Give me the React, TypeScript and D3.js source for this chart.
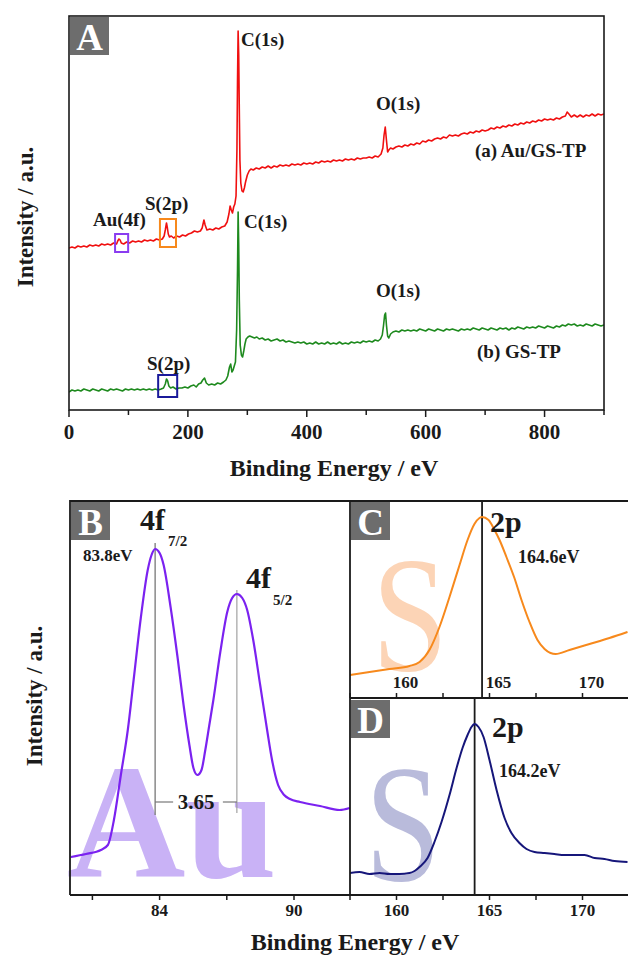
import React from "react";
import * as d3 from "d3";

// ---------- data: binding energy (eV) vs intensity (a.u.) ----------

// survey spectrum, (a) Au/GS-TP
const surveyAuGsTp: [number, number][] = [
  [0,162],[5,163],[10,162],[15,164],[20,163],[25,164],[30,163],[35,165],[40,164],[45,165],[50,164],[55,166],[60,165],[65,166],[70,165],[75,167],[80,166],[82,169],[84,171],[86,170],[88,167],[92,166],[97,168],[102,167],[107,169],[112,168],[117,169],[122,168],[127,170],[132,169],[137,170],[142,169],[147,171],[152,170],[157,171],[160,174],[162,180],[164,187],[165.5,182],[167,176],[169,173],[172,174],[176,172],[181,174],[186,173],[191,175],[196,174],[201,176],[206,177],[211,179],[216,178],[221,179],[224,182],[227,190],[229,185],[232,180],[237,181],[242,180],[247,182],[252,181],[257,183],[262,184],[266,188],[269,196],[271,204],[273,200],[275,197],[277,203],[279,206],[281,214],[282.5,260],[283.5,330],[284.5,379],[285.5,355],[286.5,300],[287.5,250],[289,227],[291,219],[293,218],[295,222],[297,228],[300,235],[303,239],[306,241],[310,240],[315,242],[320,241],[325,243],[330,242],[335,244],[340,242],[345,244],[350,243],[355,245],[360,244],[365,245],[370,244],[375,246],[380,245],[385,246],[390,245],[395,247],[400,246],[405,247],[410,246],[415,248],[420,247],[425,249],[430,248],[435,249],[440,248],[445,250],[450,249],[455,250],[460,249],[465,251],[470,250],[475,251],[480,250],[485,252],[490,251],[495,252],[500,252],[505,253],[510,252],[515,254],[520,253],[525,256],[528,262],[530,275],[532,283],[534,270],[536,258],[538,260],[541,262],[545,261],[550,263],[555,264],[560,263],[565,265],[570,264],[575,266],[580,265],[585,267],[590,266],[595,269],[600,268],[605,270],[610,269],[615,271],[620,272],[625,271],[630,273],[635,272],[640,275],[645,274],[650,275],[655,274],[660,276],[665,277],[670,276],[675,278],[680,277],[685,279],[690,278],[695,280],[700,279],[705,280],[710,282],[715,281],[720,283],[725,282],[730,284],[735,283],[740,285],[745,284],[750,286],[755,285],[760,287],[765,286],[770,288],[775,287],[780,289],[785,288],[790,290],[795,289],[800,291],[805,290],[810,291],[815,290],[820,292],[825,291],[830,293],[835,294],[838,298],[841,296],[845,293],[850,295],[855,293],[860,295],[865,293],[870,295],[875,294],[880,296],[885,294],[890,296],[895,295],[900,296],
];

// survey spectrum, (b) GS-TP
const surveyGsTp: [number, number][] = [
  [0,18],[5,20],[10,19],[15,20],[20,19],[25,21],[30,20],[35,19],[40,21],[45,20],[50,19],[55,21],[60,20],[65,19],[70,21],[75,20],[80,21],[85,20],[90,19],[95,21],[100,20],[105,21],[110,20],[115,21],[120,20],[125,21],[130,20],[135,21],[140,20],[145,21],[150,20],[155,21],[159,22],[162,26],[164,31],[166,29],[168,24],[171,22],[175,23],[180,21],[185,22],[190,22],[195,23],[200,22],[205,24],[210,25],[214,23],[218,26],[222,27],[225,30],[228,32],[231,27],[235,25],[240,26],[245,25],[250,27],[255,26],[260,28],[264,30],[267,34],[270,43],[272,46],[274,38],[276,40],[278,44],[280,48],[282,80],[283.5,140],[284.5,198],[285.5,165],[286.5,110],[288,65],[290,55],[292,53],[294,59],[296,66],[298,71],[301,73],[304,74],[308,73],[312,72],[316,73],[320,71],[325,72],[330,70],[335,71],[340,69],[345,70],[350,71],[355,69],[360,70],[365,68],[370,69],[375,68],[380,67],[385,68],[390,67],[395,68],[400,66],[405,67],[410,66],[415,68],[420,66],[425,67],[430,66],[435,68],[440,66],[445,67],[450,66],[455,68],[460,66],[465,67],[470,66],[475,68],[480,67],[485,68],[490,67],[495,69],[500,68],[505,69],[510,68],[515,70],[520,69],[524,71],[527,75],[529,84],[531,95],[532.5,97],[534,85],[536,74],[538,72],[541,76],[545,78],[550,79],[555,78],[560,80],[565,79],[570,80],[575,79],[580,80],[585,79],[590,81],[595,80],[600,79],[605,81],[610,80],[615,79],[620,81],[625,80],[630,79],[635,81],[640,80],[645,81],[650,80],[655,79],[660,81],[665,80],[670,81],[675,80],[680,82],[685,81],[690,80],[695,82],[700,81],[705,80],[710,82],[715,81],[720,80],[725,82],[730,81],[735,82],[740,80],[745,82],[750,81],[755,83],[760,82],[765,81],[770,83],[775,82],[780,83],[785,82],[790,84],[795,83],[800,82],[805,84],[810,83],[815,82],[820,84],[825,83],[830,85],[835,84],[840,86],[845,85],[850,86],[855,84],[860,85],[865,84],[870,86],[875,85],[880,84],[885,86],[890,85],[895,84],[900,85],
];

// Au 4f high-resolution region
const au4f: [number, number][] = [
  [80.04,38],[80.71,41],[81.38,45],[81.69,50],[81.96,75],[82.27,120],[82.58,165],[82.84,215],[83.16,277],[83.47,325],[83.64,340],[83.8,346],[84.0,342],[84.18,330],[84.49,288],[84.8,238],[85.07,190],[85.33,150],[85.51,127],[85.69,120],[85.87,125],[86.04,145],[86.22,170],[86.4,195],[86.71,243],[87.02,283],[87.24,297],[87.45,301],[87.69,297],[87.91,285],[88.18,255],[88.49,210],[88.8,165],[89.02,135],[89.29,110],[89.56,100],[89.82,96],[90.27,93],[91.16,89],[92.04,85],[92.49,87],
];

// S 2p region, Au/GS-TP
const s2pAu: [number, number][] = [
  [157.47,23],[158.55,26],[159.62,29],[160.7,32],[161.24,36],[161.77,48],[162.31,71],[162.85,101],[163.39,133],[163.82,158],[164.19,174],[164.46,180],[164.6,181],[164.95,178],[165.27,168],[165.54,158],[165.91,141],[166.34,120],[166.72,98],[167.15,76],[167.58,58],[167.96,49],[168.28,45],[168.55,44],[169.3,48],[170.38,54],[171.45,60],[172.42,66],
];

// S 2p region, GS-TP
const s2pGs: [number, number][] = [
  [157.47,22],[158.01,23],[158.55,21],[159.09,22],[159.62,21],[160.16,21],[160.7,22],[160.97,24],[161.24,28],[161.67,37],[162.04,53],[162.42,73],[162.85,100],[163.23,127],[163.55,147],[163.82,160],[164.03,168],[164.2,171],[164.41,168],[164.68,158],[165.0,135],[165.38,105],[165.81,77],[166.18,62],[166.61,52],[166.99,46],[167.42,43],[167.96,42],[168.49,41],[169.03,40],[169.57,40],[170.11,40],[170.65,37],[171.18,36],[171.72,34],[172.42,33],
];

const surveyMajor = [0, 200, 400, 600, 800];
const surveyMinor = [100, 300, 500, 700, 900];
const auMajor = [84, 90];
const auMinor = [81, 87];
const sMajor = [160, 165, 170];
const sMinor = [157.5, 162.5, 167.5, 172.5];

const au4f72 = 83.8;
const au4fSplit = 3.65;
const s2pAuPeak = 164.6;
const s2pGsPeak = 164.2;

// marker boxes on the survey: [eV from, eV to, intensity low, intensity high]
const boxAu4f = [77.5, 99.5, 158, 176];
const boxS2pA = [153, 180, 163, 191];
const boxS2pB = [150, 182, 13, 35];

const FONT = "'Liberation Serif','Times New Roman',Times,serif";
const INK = "#1a1a1a";
const RED = "#f01010";
const GREEN = "#1e8a1e";
const PURPLE = "#7b22f0";
const ORANGE = "#f7891c";
const NAVY = "#16167a";

function PanelTag({ x, y, label }: { x: number; y: number; label: string }) {
  return (
    <g>
      <rect x={x} y={y} width={39} height={38} fill="#6d6d6d" />
      <text x={x + 19.5} y={y + 33} textAnchor="middle" fill="#fff" fontFamily={FONT} fontWeight={700} fontSize={37}>
        {label}
      </text>
    </g>
  );
}

export default function App() {
  // ---- panel A: survey ----
  const xA = d3.scaleLinear().domain([0, 900]).range([69, 604]);
  const yA = d3.scaleLinear().domain([0, 394]).range([410, 16]);
  const lineA = d3.line<[number, number]>().x((d) => xA(d[0])).y((d) => yA(d[1]));

  // ---- panel B: Au 4f ----
  const xB = d3.scaleLinear().domain([80, 92.5]).range([70, 350]);
  const yB = d3.scaleLinear().domain([0, 394]).range([895, 501]);
  const lineB = d3.line<[number, number]>().x((d) => xB(d[0])).y((d) => yB(d[1])).curve(d3.curveMonotoneX);

  // ---- panels C, D: S 2p ----
  const xS = d3.scaleLinear().domain([157.5, 172.5]).range([350, 629]);
  const yC = d3.scaleLinear().domain([0, 197]).range([698, 501]);
  const yD = d3.scaleLinear().domain([0, 197]).range([895, 698]);
  const lineC = d3.line<[number, number]>().x((d) => xS(d[0])).y((d) => yC(d[1])).curve(d3.curveMonotoneX);
  const lineD = d3.line<[number, number]>().x((d) => xS(d[0])).y((d) => yD(d[1])).curve(d3.curveMonotoneX);

  const bold = { fontFamily: FONT, fontWeight: 700, fill: INK } as const;

  const box = (b: number[], color: string) => (
    <rect
      x={xA(b[0])}
      y={yA(b[3])}
      width={xA(b[1]) - xA(b[0])}
      height={yA(b[2]) - yA(b[3])}
      fill="none"
      stroke={color}
      strokeWidth={2}
    />
  );

  const peakB = au4f.find((d) => d[0] === au4f72)!;
  const peakB2 = au4f.reduce((m, d) => (d[0] > 86.5 && d[1] > m[1] ? d : m), [0, 0] as [number, number]);
  const x72 = xB(au4f72);
  const x52 = xB(au4f72 + au4fSplit);
  const bracketY = yB(93);

  return (
    <svg
      width={628}
      height={960}
      style={{ position: "absolute", left: 0, top: 0, background: "#fff" }}
    >
      <defs>
        <clipPath id="clipA"><rect x={69} y={16} width={535} height={394} /></clipPath>
        <clipPath id="clipB"><rect x={70} y={501} width={280} height={394} /></clipPath>
        <clipPath id="clipC"><rect x={350} y={501} width={279} height={197} /></clipPath>
        <clipPath id="clipD"><rect x={350} y={698} width={279} height={197} /></clipPath>
      </defs>

      {/* ===== Panel A ===== */}
      <g clipPath="url(#clipA)">
        <path d={lineA(surveyAuGsTp) ?? ""} fill="none" stroke={RED} strokeWidth={1.6} strokeLinejoin="round" />
        <path d={lineA(surveyGsTp) ?? ""} fill="none" stroke={GREEN} strokeWidth={1.6} strokeLinejoin="round" />
      </g>
      {box(boxAu4f, "#8a3cf0")}
      {box(boxS2pA, ORANGE)}
      {box(boxS2pB, "#1a1a9a")}
      <rect x={69} y={16} width={535} height={394} fill="none" stroke={INK} strokeWidth={1.6} />
      <PanelTag x={70} y={17} label="A" />

      {surveyMajor.map((t) => (
        <g key={"am" + t}>
          <line x1={xA(t)} x2={xA(t)} y1={410} y2={417} stroke={INK} strokeWidth={1.5} />
          <text x={xA(t)} y={439} textAnchor="middle" fontSize={21} {...bold}>{t}</text>
        </g>
      ))}
      {surveyMinor.map((t) => (
        <line key={"an" + t} x1={xA(t)} x2={xA(t)} y1={410} y2={415} stroke={INK} strokeWidth={1.5} />
      ))}
      <text x={334} y={476} textAnchor="middle" fontSize={24} {...bold}>Binding Energy / eV</text>
      <text transform="translate(33,217) rotate(-90)" textAnchor="middle" fontSize={23} {...bold}>Intensity / a.u.</text>

      <text x={241} y={46} fontSize={19} {...bold}>C(1s)</text>
      <text x={376} y={110} fontSize={19} {...bold}>O(1s)</text>
      <text x={475} y={157} fontSize={19} {...bold}>(a) Au/GS-TP</text>
      <text x={93} y={226} fontSize={19} {...bold}>Au(4f)</text>
      <text x={145} y={210} fontSize={19} {...bold}>S(2p)</text>
      <text x={244} y={228} fontSize={19} {...bold}>C(1s)</text>
      <text x={376} y={297} fontSize={19} {...bold}>O(1s)</text>
      <text x={477} y={358} fontSize={19} {...bold}>(b) GS-TP</text>
      <text x={147} y={370} fontSize={19} {...bold}>S(2p)</text>

      {/* ===== Panel B ===== */}
      <text x={67} y={877} fontFamily={FONT} fontWeight={700} fontSize={164} fill="#c9b2f6">Au</text>
      <line x1={x72} x2={x72} y1={yB(peakB[1]) - 6} y2={yB(80)} stroke="#777" strokeWidth={1.3} />
      <line x1={x52} x2={x52} y1={yB(peakB2[1]) - 4} y2={yB(82)} stroke="#999" strokeWidth={1.1} />
      <line x1={x72} x2={x72 + 18} y1={bracketY} y2={bracketY} stroke="#777" strokeWidth={1.2} />
      <line x1={x52 - 14} x2={x52} y1={bracketY} y2={bracketY} stroke="#777" strokeWidth={1.2} />
      <text x={(x72 + x52) / 2} y={bracketY + 7} textAnchor="middle" fontSize={21} {...bold}>{au4fSplit.toFixed(2)}</text>
      <g clipPath="url(#clipB)">
        <path d={lineB(au4f) ?? ""} fill="none" stroke={PURPLE} strokeWidth={2.2} />
      </g>
      <text x={140} y={530} fontSize={30} {...bold}>4f</text>
      <text x={168} y={546} fontSize={15} {...bold}>7/2</text>
      <text x={83} y={561} fontSize={17} {...bold}>{au4f72.toFixed(1)}eV</text>
      <text x={246} y={588} fontSize={30} {...bold}>4f</text>
      <text x={273} y={605} fontSize={15} {...bold}>5/2</text>
      <PanelTag x={71} y={502} label="B" />

      {auMajor.map((t) => (
        <g key={"bm" + t}>
          <line x1={xB(t)} x2={xB(t)} y1={895} y2={900} stroke={INK} strokeWidth={1.5} />
          <text x={xB(t)} y={916} textAnchor="middle" fontSize={17} {...bold}>{t}</text>
        </g>
      ))}
      {auMinor.map((t) => (
        <line key={"bn" + t} x1={xB(t)} x2={xB(t)} y1={895} y2={900} stroke={INK} strokeWidth={1.5} />
      ))}

      {/* ===== Panel C ===== */}
      <text x={372} y={670} fontFamily={FONT} fontSize={166} fill="#fcd4b6" textLength={76} lengthAdjust="spacingAndGlyphs">S</text>
      <line x1={xS(s2pAuPeak)} x2={xS(s2pAuPeak)} y1={501} y2={698} stroke={INK} strokeWidth={1.8} />
      <g clipPath="url(#clipC)">
        <path d={lineC(s2pAu) ?? ""} fill="none" stroke={ORANGE} strokeWidth={2} />
      </g>
      <text x={490} y={532} fontSize={30} {...bold}>2p</text>
      <text x={518} y={563} fontSize={18} {...bold}>{s2pAuPeak.toFixed(1)}eV</text>
      {sMajor.concat(sMinor).map((t) => (
        <line key={"cn" + t} x1={xS(t)} x2={xS(t)} y1={698} y2={693} stroke={INK} strokeWidth={1.5} />
      ))}
      {sMajor.map((t) => (
        <text key={"cm" + t} x={xS(t) + 9} y={688} textAnchor="middle" fontSize={17} {...bold}>{t}</text>
      ))}
      <PanelTag x={351} y={502} label="C" />

      {/* ===== Panel D ===== */}
      <text x={365} y={880} fontFamily={FONT} fontSize={168} fill="#b9bbdb" textLength={76} lengthAdjust="spacingAndGlyphs">S</text>
      <line x1={xS(s2pGsPeak)} x2={xS(s2pGsPeak)} y1={698} y2={895} stroke={INK} strokeWidth={1.8} />
      <g clipPath="url(#clipD)">
        <path d={lineD(s2pGs) ?? ""} fill="none" stroke={NAVY} strokeWidth={2} />
      </g>
      <text x={492} y={737} fontSize={30} {...bold}>2p</text>
      <text x={499} y={777} fontSize={18} {...bold}>{s2pGsPeak.toFixed(1)}eV</text>
      {sMajor.concat(sMinor).map((t) => (
        <line key={"dn" + t} x1={xS(t)} x2={xS(t)} y1={895} y2={900} stroke={INK} strokeWidth={1.5} />
      ))}
      {sMajor.map((t) => (
        <text key={"dm" + t} x={xS(t)} y={916} textAnchor="middle" fontSize={17} {...bold}>{t}</text>
      ))}
      <PanelTag x={351} y={700} label="D" />

      {/* frames for B, C, D */}
      <path d="M70,895 V501 H629" fill="none" stroke={INK} strokeWidth={1.8} />
      <line x1={70} x2={629} y1={895} y2={895} stroke={INK} strokeWidth={1.8} />
      <line x1={350} x2={350} y1={501} y2={895} stroke={INK} strokeWidth={1.8} />
      <line x1={350} x2={629} y1={698} y2={698} stroke={INK} strokeWidth={1.8} />

      <text x={355} y={950} textAnchor="middle" fontSize={24} {...bold}>Binding Energy / eV</text>
      <text transform="translate(42,696) rotate(-90)" textAnchor="middle" fontSize={23} {...bold}>Intensity / a.u.</text>
    </svg>
  );
}
